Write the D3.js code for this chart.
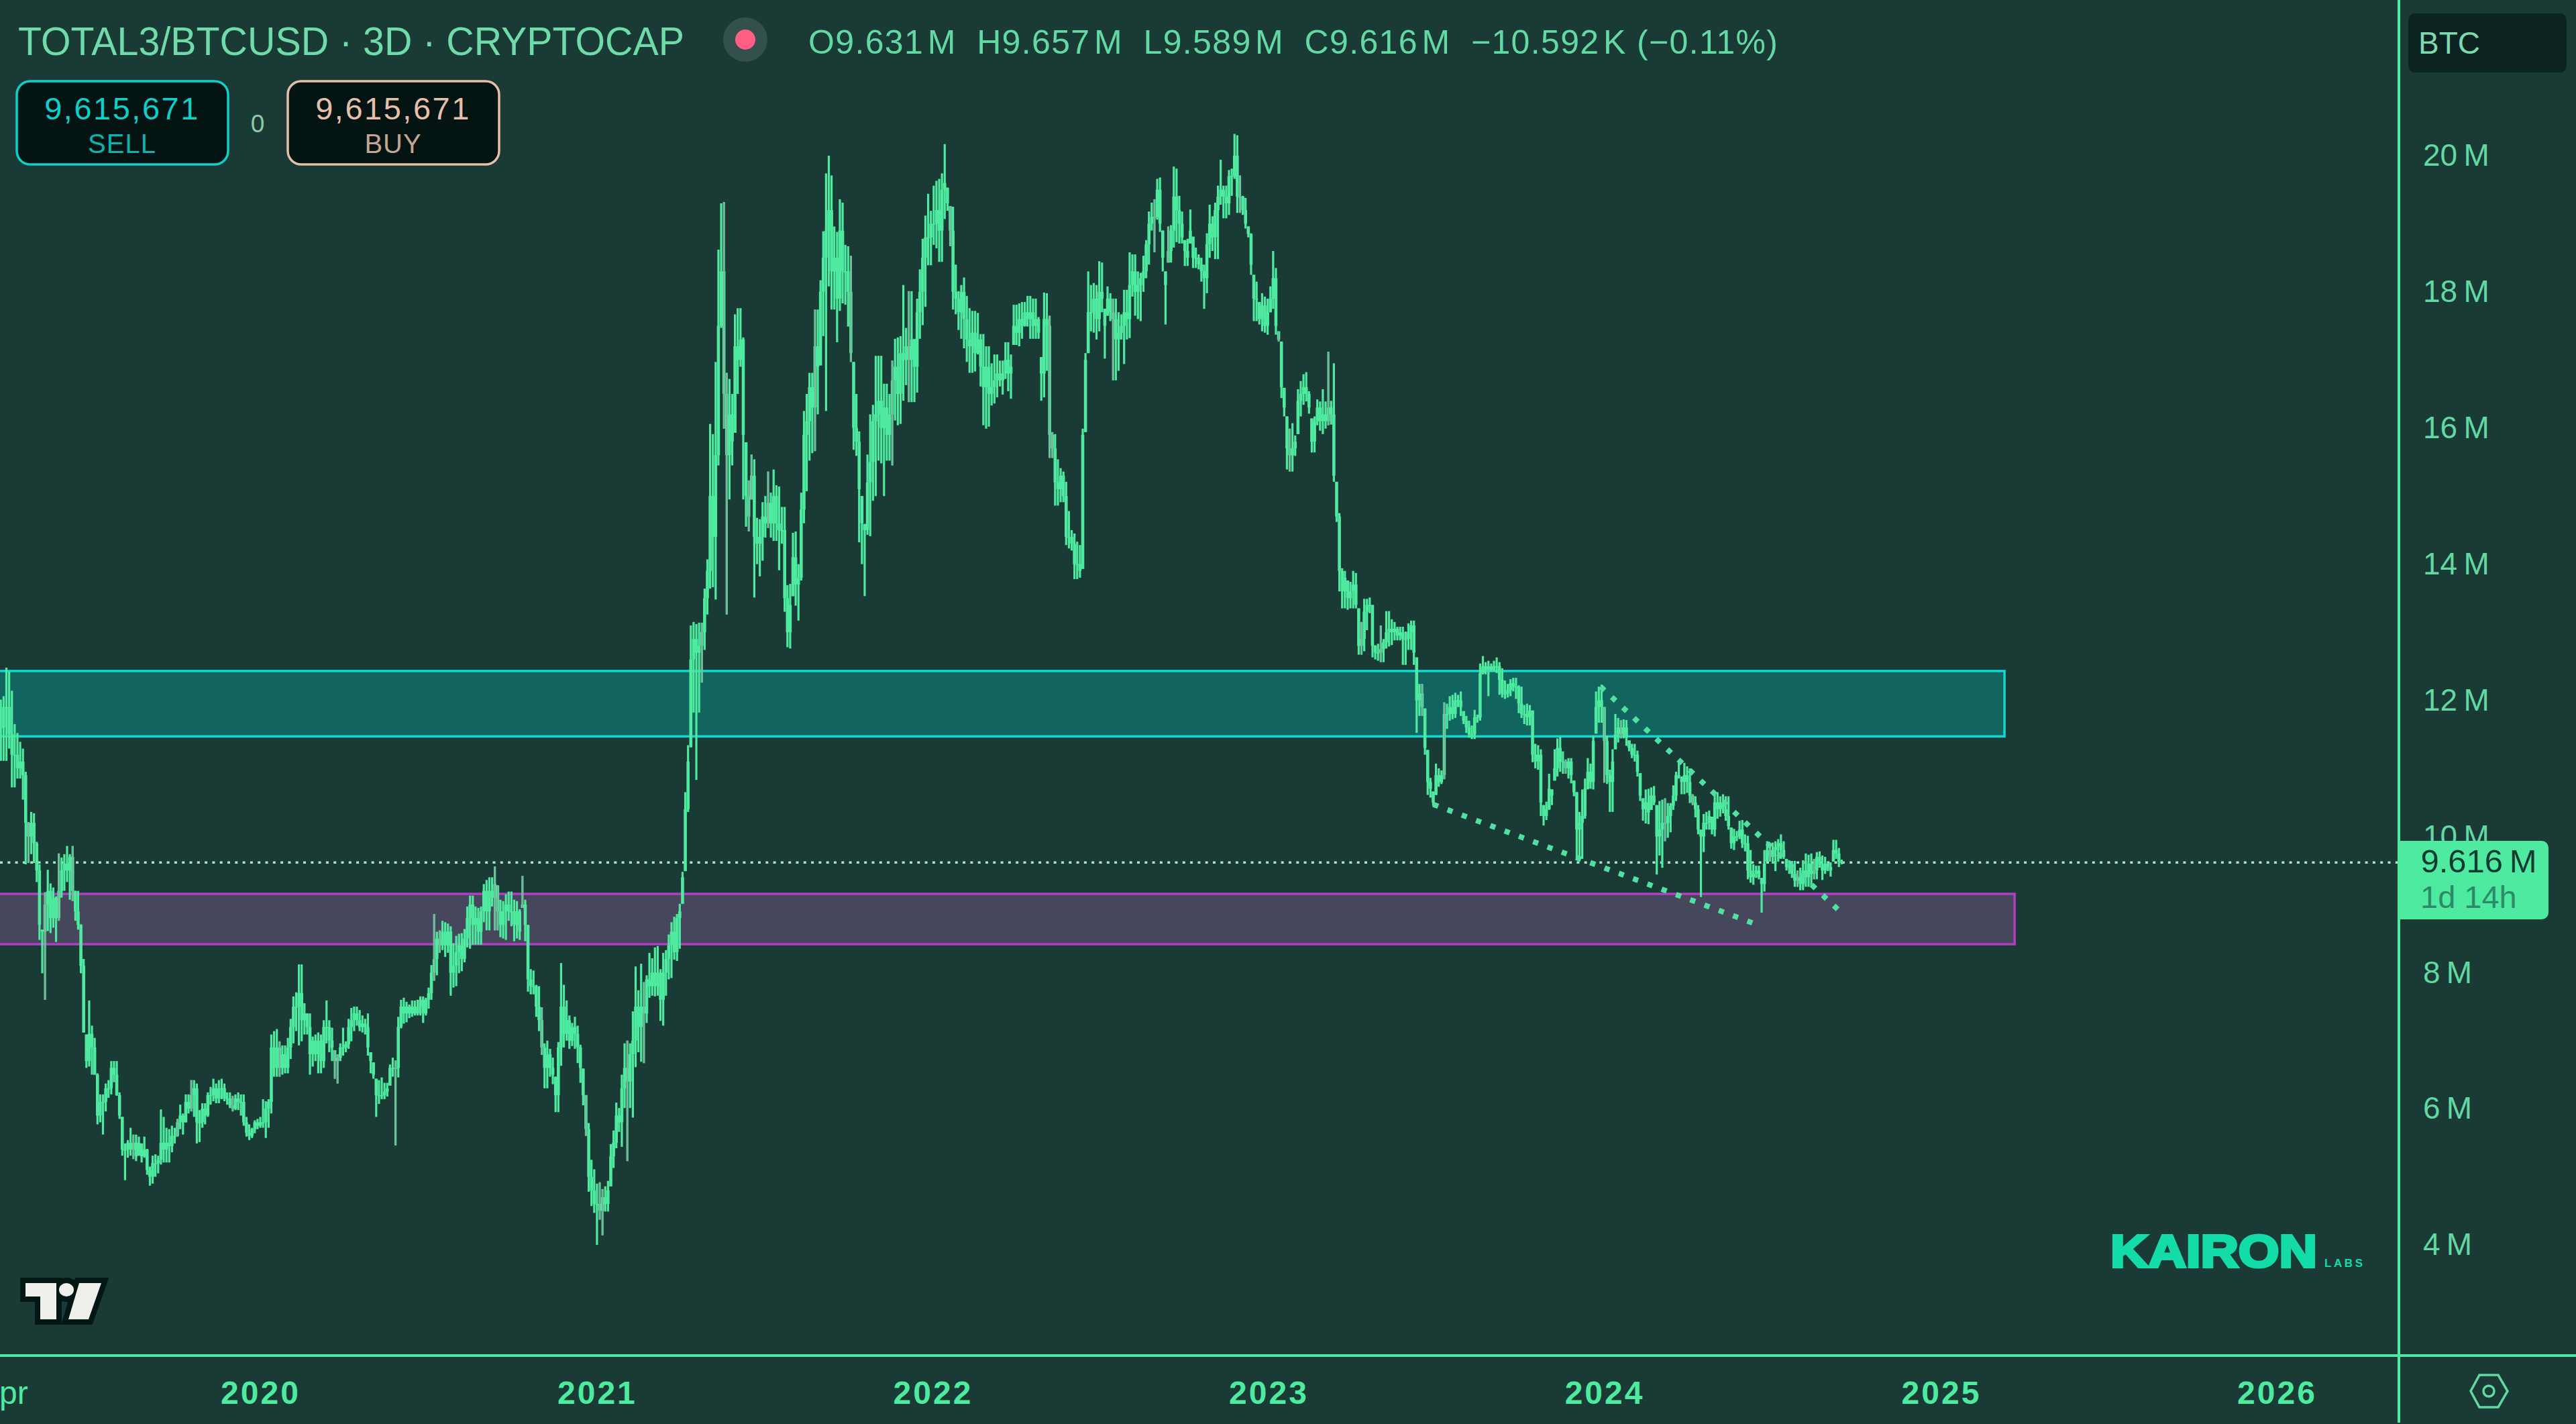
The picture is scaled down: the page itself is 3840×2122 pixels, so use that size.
<!DOCTYPE html>
<html>
<head>
<meta charset="utf-8">
<script src="https://cdnjs.cloudflare.com/ajax/libs/d3/7.8.5/d3.min.js"></script>
<style>
  html, body { margin: 0; padding: 0; background: #1a3a36; }
  svg { display: block; }
  text { font-family: "Liberation Sans", Arial, sans-serif; }
</style>
</head>
<body>
<div id="grafico"></div>
<script>
/* 3D bars, values in millions */
const firstBar = '2019-03-25';

const highs = [
12.01,12.06,12.48,12.42,12.14,11.65,11.52,11.39,11.29,10.95,
10.21,10.36,10.34,9.92,9.59,8.63,9.18,9.51,9.31,9.25,
9.12,9.75,9.69,9.74,9.86,9.74,9.86,9.20,9.20,8.71,
8.20,7.09,7.59,7.22,7.04,6.52,6.21,6.21,6.37,6.42,
6.70,6.70,6.70,6.24,5.88,5.49,5.54,5.72,5.62,5.62,
5.59,5.49,5.59,5.41,5.15,5.31,5.33,5.31,5.99,5.88,
5.72,5.70,5.75,5.72,5.85,6.06,5.93,6.21,6.21,6.42,
6.42,6.37,5.98,6.08,6.08,6.24,6.32,6.44,6.37,6.42,
6.44,6.37,6.24,6.24,6.19,6.21,6.24,6.21,6.21,5.88,
5.77,5.72,5.83,5.85,5.88,6.14,6.11,6.14,7.09,7.14,
7.17,6.99,6.93,6.93,7.04,7.32,7.65,7.71,8.12,8.12,
7.55,7.40,7.40,7.06,7.09,7.12,7.09,7.30,7.59,7.30,
7.19,6.86,6.80,6.96,7.19,6.99,7.32,7.48,7.50,7.50,
7.45,7.37,7.32,7.40,6.83,6.68,6.44,6.42,6.46,6.38,
6.38,6.65,6.75,6.71,7.35,7.60,7.63,7.57,7.53,7.59,
7.59,7.60,7.65,7.65,7.63,7.78,8.11,8.86,8.60,8.62,
8.76,8.74,8.72,8.68,8.43,8.54,8.57,8.58,8.64,8.97,
9.13,9.13,8.97,8.95,8.97,9.30,9.36,9.40,9.40,9.56,
9.28,9.07,9.05,9.15,9.19,9.19,9.07,9.05,8.93,9.42,
9.07,8.70,8.05,8.03,7.82,7.80,7.49,6.96,7.00,6.88,
6.75,6.47,6.98,8.14,7.82,7.59,7.37,7.26,7.35,7.22,
6.94,6.59,6.20,5.79,5.25,5.11,4.90,4.92,4.82,4.86,
4.94,5.48,5.68,6.09,6.01,6.50,6.96,7.00,6.96,7.43,
8.09,7.74,8.13,7.86,7.96,8.29,8.21,8.37,8.39,8.05,
8.29,8.33,8.56,8.74,8.82,8.86,9.01,9.48,10.65,11.34,
13.10,13.15,13.12,13.14,13.14,13.64,14.07,16.06,15.91,16.97,
18.62,19.30,19.32,16.81,16.72,16.50,17.67,17.76,17.76,17.33,
15.79,15.23,15.61,15.54,14.68,14.66,14.91,15.00,15.36,15.05,
15.39,15.16,15.14,14.84,14.84,13.69,13.71,14.46,14.48,14.00,
15.05,16.25,16.50,16.81,16.81,17.74,17.74,18.17,18.89,19.74,
20.00,19.71,18.96,18.88,19.36,19.31,18.69,18.67,18.53,16.97,
16.50,15.95,15.00,14.59,15.61,16.20,16.34,17.06,17.06,17.06,
16.65,16.65,16.50,16.99,17.31,17.33,17.35,18.10,17.47,18.01,
18.01,17.31,17.90,18.33,18.78,19.12,19.44,19.19,19.56,19.63,
19.66,19.74,20.17,19.53,19.26,19.25,18.40,18.01,18.10,18.21,
17.94,17.76,17.72,17.72,17.69,17.38,17.38,17.20,17.20,16.95,
17.08,17.08,16.99,16.99,17.26,17.26,17.08,17.81,17.81,17.83,
17.85,17.85,17.94,17.94,17.90,17.90,17.63,17.04,17.99,17.98,
17.65,15.94,15.91,15.54,15.41,15.36,15.21,14.78,14.50,14.45,
14.33,14.28,15.99,17.10,18.30,18.10,18.13,18.10,18.45,18.43,
17.75,18.08,17.98,17.90,17.90,17.70,17.67,18.03,18.03,18.58,
18.55,18.55,18.30,18.28,18.53,18.76,19.18,19.31,19.36,19.66,
19.68,18.90,18.30,18.96,18.98,19.84,19.81,19.41,19.18,18.76,
18.78,19.21,18.81,18.65,18.55,18.50,18.40,18.86,19.28,19.11,
19.31,19.56,19.94,19.56,19.56,19.79,19.81,20.32,20.30,19.71,
19.41,19.38,18.96,18.86,18.25,18.15,17.85,17.98,17.93,17.90,
18.08,18.60,18.35,17.42,17.27,16.59,16.17,15.99,16.07,15.89,
16.57,16.69,16.79,16.82,16.54,16.14,16.17,16.42,16.39,16.57,
16.39,17.12,16.40,16.95,15.21,14.75,13.94,13.90,13.76,13.74,
13.90,13.87,13.35,13.15,13.49,13.49,13.51,13.40,12.81,12.83,
13.10,12.90,13.31,13.31,13.19,13.15,13.08,13.08,13.08,13.01,
13.13,13.17,13.17,12.63,12.24,12.24,11.88,11.27,10.86,10.66,
11.07,11.00,10.97,11.97,11.95,12.06,12.08,12.11,12.08,12.13,
11.84,11.77,11.70,11.63,11.86,11.79,12.54,12.65,12.56,12.58,
12.54,12.58,12.63,12.56,12.47,12.29,12.24,12.31,12.33,12.33,
12.22,12.20,11.93,11.95,11.93,11.85,11.36,11.34,11.28,10.46,
10.51,10.92,10.69,11.28,11.44,11.46,11.25,11.13,11.15,11.15,
10.82,10.65,10.36,10.69,10.85,11.15,11.07,11.48,12.13,12.20,
12.23,11.90,11.48,10.98,11.28,11.80,11.74,11.71,11.72,11.71,
11.41,11.36,11.36,11.26,10.93,10.56,10.69,10.70,10.72,10.74,
10.46,10.52,10.54,10.56,10.49,10.49,10.75,10.95,11.11,10.88,
11.08,11.03,11.00,10.62,10.59,10.46,10.10,10.33,10.36,10.38,
10.29,10.64,10.65,10.59,10.62,10.59,10.59,10.13,10.11,10.08,
10.23,10.24,10.03,10.01,9.80,9.59,9.57,9.57,9.39,9.80,
9.93,9.88,9.91,9.93,9.96,10.03,9.93,9.67,9.65,9.64,
9.64,9.50,9.54,9.65,9.75,9.73,9.75,9.67,9.77,9.78,
9.72,9.70,9.62,9.62,9.95,9.95,9.83,9.66];

const lows = [
11.11,11.11,11.11,11.29,10.72,10.72,10.85,10.85,10.54,9.59,
9.61,9.74,9.61,9.33,8.48,7.99,7.60,8.61,8.58,8.66,
8.45,8.76,9.10,9.20,9.33,9.07,9.05,8.76,8.63,7.99,
7.12,6.60,6.62,6.50,6.50,5.77,5.80,5.62,5.96,6.16,
6.21,6.39,6.19,5.85,5.31,4.95,5.28,5.31,5.26,5.23,
5.31,5.21,5.28,5.03,4.87,4.90,5.00,5.05,5.18,5.21,
5.21,5.21,5.36,5.49,5.59,5.70,5.62,5.80,5.93,5.96,
5.88,5.49,5.51,5.72,5.77,5.88,6.06,6.11,6.08,6.08,
6.14,6.11,6.06,6.01,5.96,5.98,5.98,5.90,5.75,5.59,
5.54,5.57,5.64,5.70,5.72,5.72,5.57,5.72,5.93,6.47,
6.47,6.47,6.50,6.52,6.52,6.73,6.96,7.14,6.93,6.99,
7.09,7.09,6.50,6.62,6.70,6.52,6.52,6.60,6.96,6.83,
6.70,6.44,6.37,6.70,6.78,6.83,6.88,6.99,7.14,7.22,
7.14,7.12,7.09,6.78,6.52,6.44,5.88,6.07,6.14,6.14,
6.18,6.34,6.47,5.46,6.46,7.18,7.25,7.27,7.33,7.35,
7.37,7.37,7.37,7.26,7.37,7.47,7.60,7.88,7.96,8.29,
8.33,8.23,8.29,7.66,7.78,7.80,7.99,8.02,8.15,8.37,
8.35,8.41,8.41,8.41,8.41,8.74,8.62,8.62,8.97,8.62,
8.62,8.52,8.50,8.48,8.76,8.68,8.46,8.50,8.48,8.95,
8.46,7.72,7.68,7.68,7.35,7.14,6.79,6.30,6.30,6.47,
6.36,5.95,5.95,6.63,6.90,7.00,6.88,6.92,6.88,6.67,
6.38,6.05,5.60,4.78,4.57,4.47,4.00,4.37,4.14,4.49,
4.49,4.86,5.13,5.42,5.66,5.44,6.01,5.23,6.01,5.87,
6.61,6.83,6.69,6.67,7.26,7.63,7.66,7.65,7.66,7.29,
7.22,7.66,7.90,7.92,8.19,8.17,8.35,9.01,9.49,10.36,
11.31,11.82,10.83,11.82,12.26,12.74,13.26,13.64,13.66,13.48,
15.45,17.47,15.99,13.26,14.95,15.45,15.93,16.50,16.90,14.95,
14.55,14.48,14.95,13.51,14.00,13.82,14.05,14.39,14.53,14.39,
14.34,14.34,13.91,14.30,13.30,12.78,12.76,13.53,13.39,13.17,
13.76,14.60,15.07,15.52,15.63,15.66,16.20,16.92,17.35,16.25,
18.08,17.74,17.74,17.26,17.72,17.83,17.81,17.49,16.97,15.68,
15.59,14.32,14.00,13.53,14.43,14.41,14.93,15.00,15.52,15.48,
15.00,15.52,15.52,15.45,16.11,16.04,16.06,16.40,16.63,16.38,
16.38,16.38,16.52,17.31,17.51,17.78,18.39,18.39,18.69,18.64,
18.44,18.44,19.07,19.19,18.67,17.74,17.67,17.44,17.31,17.17,
16.97,16.81,16.81,16.83,17.08,16.61,16.04,15.99,16.02,16.33,
16.36,16.45,16.61,16.49,16.72,16.54,16.43,17.22,17.22,17.20,
17.31,17.49,17.49,17.31,17.31,17.31,17.31,16.40,16.45,16.84,
15.56,15.56,14.86,14.86,14.91,14.91,14.28,14.23,14.20,13.78,
13.78,13.80,13.93,15.94,17.10,17.42,17.40,17.30,17.42,17.70,
17.02,17.65,17.57,16.70,16.70,16.84,17.30,16.94,17.30,17.32,
17.93,17.65,17.60,17.57,18.00,18.20,18.40,18.90,18.58,19.06,
18.88,18.30,17.52,18.43,18.43,18.65,18.73,18.71,18.71,18.38,
18.38,18.71,18.35,18.35,18.33,18.15,17.75,17.98,18.50,18.60,
18.48,18.48,19.28,19.08,19.08,19.13,19.41,19.66,19.16,19.16,
19.13,18.93,18.80,18.25,17.57,17.57,17.52,17.42,17.40,17.37,
17.70,17.75,17.37,17.27,16.44,16.17,15.39,15.36,15.36,15.59,
15.91,16.17,16.34,16.39,16.21,15.64,15.64,16.04,15.96,15.91,
15.99,16.04,16.05,15.21,14.62,13.60,13.35,13.35,13.33,13.35,
13.35,13.35,12.67,12.67,12.72,13.03,13.28,12.63,12.60,12.58,
12.56,12.56,12.76,12.79,12.81,12.88,12.88,12.88,12.52,12.52,
12.74,12.74,12.52,11.52,11.77,11.77,11.20,10.61,10.57,10.45,
10.61,10.73,10.77,10.84,11.58,11.70,11.72,11.74,11.90,11.77,
11.65,11.52,11.45,11.43,11.43,11.67,11.70,12.38,12.38,12.06,
12.42,12.42,12.40,12.08,12.04,12.02,12.04,12.06,12.13,12.02,
11.81,11.74,11.65,11.63,11.63,11.09,11.00,10.98,10.30,10.16,
10.24,10.39,10.46,10.82,10.88,10.95,10.92,10.92,10.85,10.78,
10.59,9.67,9.67,9.67,10.26,10.69,10.70,10.69,11.51,11.67,
11.67,10.79,10.77,10.36,10.36,11.28,11.38,11.44,11.44,11.33,
11.25,11.15,11.10,10.88,10.52,10.23,10.19,10.18,10.39,10.46,
9.44,9.72,9.54,9.93,9.98,10.06,10.39,10.52,10.85,10.62,
10.62,10.64,10.49,10.46,10.28,10.03,9.11,9.77,10.10,10.10,
10.03,10.00,10.26,10.29,10.34,10.23,10.10,9.82,9.80,9.93,
9.96,9.83,9.78,9.37,9.32,9.29,9.39,9.37,8.88,9.19,
9.63,9.63,9.60,9.49,9.63,9.67,9.67,9.50,9.45,9.39,
9.26,9.26,9.21,9.21,9.26,9.26,9.26,9.37,9.37,9.54,
9.36,9.45,9.49,9.41,9.63,9.67,9.55,9.59];

const closes = [
11.6,11.9,11.9,11.5,11.2,11.2,11.0,11.1,10.9,10.2,
10.0,10.2,9.9,9.5,8.7,8.6,9.0,9.2,8.8,9.1,
8.8,9.2,9.5,9.6,9.5,9.7,9.2,8.9,8.7,8.1,
7.1,6.7,7.1,6.9,6.5,5.9,6.1,6.1,6.3,6.3,
6.6,6.5,6.2,5.9,5.4,5.4,5.5,5.4,5.5,5.3,
5.5,5.3,5.4,5.1,5.0,5.2,5.2,5.25,5.5,5.4,
5.5,5.45,5.6,5.6,5.8,5.9,5.8,6.1,6.0,6.2,
6.3,5.8,5.8,6.0,5.9,6.2,6.2,6.3,6.15,6.3,
6.3,6.15,6.15,6.05,6.0,6.15,6.1,6.1,5.8,5.65,
5.6,5.7,5.8,5.75,5.8,5.8,6.0,6.1,6.9,6.6,
6.9,6.6,6.8,6.6,6.9,7.2,7.5,7.5,7.7,7.3,
7.4,7.2,6.8,7.0,6.8,7.0,6.7,7.2,7.2,7.0,
6.9,6.7,6.75,6.9,6.9,6.95,7.2,7.3,7.4,7.3,
7.2,7.25,7.2,6.9,6.7,6.5,6.2,6.2,6.2,6.25,
6.3,6.6,6.6,6.6,7.2,7.5,7.4,7.5,7.4,7.5,
7.4,7.5,7.6,7.4,7.6,7.7,8.0,8.2,8.5,8.4,
8.6,8.4,8.6,8.0,8.1,8.3,8.4,8.2,8.5,8.8,
9.0,8.7,8.8,8.6,8.9,9.2,8.9,9.2,9.1,9.3,
8.9,8.7,8.9,9.0,8.9,8.9,8.7,8.9,8.6,9.0,
8.7,7.9,7.8,7.8,7.5,7.3,6.9,6.6,6.8,6.6,
6.5,6.2,6.9,7.5,7.1,7.3,7.0,7.2,7.1,6.9,
6.6,6.2,5.7,5.0,4.8,4.6,4.6,4.5,4.7,4.6,
4.8,5.3,5.5,5.9,5.8,6.3,6.6,6.4,6.8,7.0,
7.5,7.2,7.5,7.4,7.9,7.8,8.0,7.8,8.0,7.6,
8.0,8.2,8.4,8.6,8.3,8.8,8.9,9.4,10.4,11.1,
12.6,12.9,12.7,12.8,13.0,13.5,13.9,15.0,14.4,15.6,
17.5,18.3,16.5,15.6,16.2,15.8,17.2,17.0,17.3,15.9,
15.0,14.7,15.3,14.4,14.3,14.4,14.7,14.6,14.9,14.6,
15.0,14.6,14.5,14.5,13.5,13.0,13.4,14.1,13.7,13.8,
14.8,15.9,16.1,16.6,16.3,17.2,16.9,18.0,18.5,18.9,
19.2,18.3,18.5,17.9,18.9,18.3,18.3,18.0,17.1,16.0,
15.8,15.1,14.6,14.5,15.2,15.5,16.1,16.2,16.4,16.0,
16.3,15.9,16.2,16.7,16.9,16.5,17.1,17.0,17.2,17.0,
17.3,16.9,17.7,18.0,18.5,18.8,18.8,19.0,19.0,19.2,
18.9,19.5,19.6,19.3,18.9,18.0,17.9,17.7,18.0,17.6,
17.3,17.2,17.4,17.1,17.3,16.9,16.6,16.9,16.5,16.6,
16.7,16.8,16.7,16.8,17.0,16.8,16.9,17.5,17.4,17.6,
17.5,17.7,17.6,17.7,17.5,17.6,17.4,16.8,17.6,17.5,
15.9,15.7,15.2,15.1,15.3,15.0,14.4,14.4,14.3,14.0,
14.0,13.9,15.9,17.0,17.7,17.7,17.9,17.6,18.0,17.9,
17.5,17.9,17.7,17.6,17.3,17.4,17.5,17.7,17.6,18.1,
18.3,18.0,18.1,18.2,18.3,18.7,19.0,19.1,19.1,19.5,
19.0,18.5,18.1,18.6,18.9,19.4,19.2,19.0,18.8,18.6,
18.5,18.9,18.5,18.5,18.4,18.3,18.2,18.7,19.0,18.8,
19.2,19.4,19.5,19.4,19.3,19.7,19.7,20.0,19.4,19.4,
19.2,19.0,18.85,18.4,17.9,17.9,17.6,17.8,17.5,17.7,
17.9,18.2,17.5,17.3,16.6,16.3,15.7,15.6,15.7,15.8,
16.4,16.5,16.6,16.5,16.3,15.8,16.1,16.3,16.1,16.2,
16.1,16.3,16.2,15.3,14.7,13.9,13.6,13.8,13.5,13.6,
13.7,13.4,12.8,12.9,13.3,13.4,13.4,12.8,12.7,12.7,
12.75,12.85,13.0,13.05,13.0,13.05,12.95,13.0,12.9,12.9,
13.0,13.1,12.7,12.0,12.1,11.9,11.3,10.8,10.7,10.5,
10.9,10.8,10.9,11.8,11.8,11.9,11.8,12.0,12.0,11.9,
11.7,11.6,11.5,11.5,11.75,11.75,12.4,12.5,12.45,12.5,
12.45,12.5,12.5,12.3,12.1,12.1,12.15,12.25,12.2,12.2,
11.95,11.8,11.8,11.75,11.85,11.2,11.1,11.2,10.5,10.3,
10.4,10.7,10.6,11.0,11.3,11.1,11.1,11.0,11.1,10.9,
10.65,10.1,10.2,10.3,10.7,10.95,10.8,11.4,11.9,12.0,
11.9,11.4,10.9,10.8,11.1,11.5,11.6,11.5,11.6,11.45,
11.3,11.2,11.2,10.95,10.6,10.4,10.5,10.35,10.6,10.5,
10.0,10.1,10.2,10.2,10.3,10.45,10.6,10.9,10.9,10.8,
10.9,10.8,10.6,10.5,10.4,10.1,10.0,10.2,10.2,10.3,
10.1,10.5,10.4,10.5,10.4,10.3,10.15,9.9,10.0,10.0,
10.1,9.9,9.9,9.5,9.4,9.45,9.5,9.4,9.3,9.6,
9.8,9.7,9.8,9.85,9.9,9.8,9.7,9.55,9.55,9.45,
9.35,9.4,9.3,9.5,9.4,9.6,9.45,9.5,9.7,9.6,
9.5,9.6,9.55,9.5,9.8,9.75,9.63,9.616];

/* stems that show up grey in the picture */
const greyBars = [10,16,21,26,48,64,69,84,101,121,122,143,157,159,179,180,189,196,212,217,218,227,233,
  254,262,263,271,272,278,295,308,323,329,344,380,381,403,418,423,449,463,467,481,493,500,515,523,
  567,581,587,603,613,641,651,657];

const yearTicks = ['2019-04-01','2020-01-01','2021-01-01','2022-01-01','2023-01-01','2024-01-01','2025-01-01','2026-01-01'];
const priceTicks = [4,6,8,10,12,14,16,18,20];

const lastPrice = 9.616;
const tealBand = { top: 12.43, bottom: 11.47, end: '2025-03-11' };
const purpleBand = { top: 9.156, bottom: 8.417, end: '2025-03-22' };
const upperTrend = [['2023-12-28',12.20],['2024-09-13',8.90]];
const lowerTrend = [['2023-06-29',10.47],['2024-06-12',8.72]];

const w = 3840;
const h = 2122;
const axisX = 3576;
const axisY = 2020;
const green = '#4eea9f';
const label = '#62d8a3';
const bg = '#1a3a36';

const parse = d3.utcParse('%Y-%m-%d');

const x = d3.scaleUtc()
  .domain([parse('2020-01-01'), parse('2026-01-01')])
  .range([388, 3394]);

const y = d3.scaleLinear()
  .domain([22.287, 2.374])
  .range([0, axisY]);

const start = parse(firstBar);
const bars = highs.map((hi, i) => ({
  i,
  date: d3.utcDay.offset(start, 3 * i),
  hi,
  lo: lows[i],
  open: i ? closes[i - 1] : closes[0],
  close: closes[i]
}));

const svg = d3.select('#grafico').append('svg')
  .attr('width', w)
  .attr('height', h)
  .attr('viewBox', `0 0 ${w} ${h}`);

svg.append('rect').attr('width', w).attr('height', h).attr('fill', bg);

svg.append('clipPath').attr('id', 'plot')
  .append('rect').attr('width', axisX).attr('height', axisY);

const plot = svg.append('g').attr('clip-path', 'url(#plot)');

/*Bandas*/
const band = (b, fill, stroke) => {
  plot.append('rect')
    .attr('x', -10)
    .attr('y', y(b.top))
    .attr('width', x(parse(b.end)) + 10)
    .attr('height', y(b.bottom) - y(b.top))
    .attr('fill', fill)
    .attr('stroke', stroke)
    .attr('stroke-width', 3.5);
};
band(tealBand, '#12645e', '#10d8d2');
band(purpleBand, '#46465c', '#b03fc4');

/*Precio actual*/
plot.append('line')
  .attr('x1', 0).attr('x2', axisX)
  .attr('y1', y(lastPrice)).attr('y2', y(lastPrice))
  .attr('stroke', '#a5e8c8')
  .attr('stroke-width', 3.5)
  .attr('stroke-dasharray', '4 7.3');

/*Velas*/
plot.append('g').selectAll('rect')
  .data(bars)
  .enter().append('rect')
  .attr('x', d => x(d.date) - 1.6)
  .attr('y', d => y(d.hi))
  .attr('width', 3.2)
  .attr('height', d => y(d.lo) - y(d.hi))
  .attr('fill', green);

plot.append('g').selectAll('rect')
  .data(bars)
  .enter().append('rect')
  .attr('x', d => x(d.date) - 2.3)
  .attr('y', d => y(Math.min(d.hi, Math.max(d.open, d.close))))
  .attr('width', 4.6)
  .attr('height', d => Math.max(1.5, y(Math.max(d.lo, Math.min(d.open, d.close))) - y(Math.min(d.hi, Math.max(d.open, d.close)))))
  .attr('fill', green);

plot.append('g').selectAll('rect')
  .data(greyBars.map(i => bars[i]))
  .enter().append('rect')
  .attr('x', d => x(d.date) - 0.9)
  .attr('y', d => y(d.hi))
  .attr('width', 1.8)
  .attr('height', d => y(d.lo) - y(d.hi))
  .attr('fill', '#86a99c');

/*Lineas de tendencia*/
const trend = d3.line().x(d => x(parse(d[0]))).y(d => y(d[1]));
[upperTrend, lowerTrend].forEach(t => {
  plot.append('path')
    .attr('d', trend(t))
    .attr('fill', 'none')
    .attr('stroke', '#52dfa2')
    .attr('stroke-width', 8)
    .attr('stroke-dasharray', '8 14.7');
});

/*Ejes*/
const yAxis = d3.axisRight(y)
  .tickValues(priceTicks)
  .tickSize(0)
  .tickPadding(36)
  .tickFormat(d => `${d}\u2009M`);

svg.append('g')
  .attr('id', 'y-axis')
  .attr('transform', `translate(${axisX},0)`)
  .call(yAxis)
  .call(g => g.select('.domain').remove())
  .selectAll('text')
  .attr('fill', label)
  .style('font-size', '46px')
  .style('font-family', '"Liberation Sans", Arial, sans-serif');

const xAxis = d3.axisBottom(x)
  .tickValues(yearTicks.map(parse))
  .tickSize(0)
  .tickPadding(38)
  .tickFormat(d => d.getUTCMonth() === 0 ? d3.utcFormat('%Y')(d) : d3.utcFormat('%b')(d));

svg.append('g')
  .attr('id', 'x-axis')
  .attr('transform', `translate(0,${axisY})`)
  .call(xAxis)
  .call(g => g.select('.domain').remove())
  .selectAll('text')
  .attr('fill', green)
  .attr('dx', d => d.getUTCMonth() === 0 ? 0 : -7)
  .style('font-size', '48px')
  .style('font-family', '"Liberation Sans", Arial, sans-serif')
  .style('font-weight', d => d.getUTCMonth() === 0 ? 700 : 400)
  .style('letter-spacing', d => d.getUTCMonth() === 0 ? '3px' : '0');

svg.append('line').attr('x1', 0).attr('x2', w).attr('y1', axisY).attr('y2', axisY)
  .attr('stroke', green).attr('stroke-width', 4);
svg.append('line').attr('x1', axisX).attr('x2', axisX).attr('y1', 0).attr('y2', 2120)
  .attr('stroke', green).attr('stroke-width', 4);

/*Etiqueta de precio*/
svg.append('path')
  .attr('d', 'M3576 1253H3789a10 10 0 0 1 10 10V1360a10 10 0 0 1 -10 10H3576Z')
  .attr('fill', green);
svg.append('text').attr('x', 3695).attr('y', 1300)
  .attr('text-anchor', 'middle').attr('font-size', 49).attr('fill', '#123a30')
  .text('9.616\u2009M');
svg.append('text').attr('x', 3608).attr('y', 1353)
  .attr('font-size', 47).attr('fill', '#2c8a68')
  .text('1d 14h');

/*Cabecera*/
svg.append('text').attr('x', 27).attr('y', 82)
  .attr('font-size', 59).attr('fill', '#6fdba8')
  .attr('textLength', 993).attr('lengthAdjust', 'spacingAndGlyphs')
  .text('TOTAL3/BTCUSD · 3D · CRYPTOCAP');

svg.append('circle').attr('cx', 1111).attr('cy', 59).attr('r', 33).attr('fill', '#33504c');
svg.append('circle').attr('cx', 1111).attr('cy', 59).attr('r', 15).attr('fill', '#ff5f85');

svg.append('text').attr('x', 1205).attr('y', 80)
  .attr('font-size', 50).attr('fill', label)
  .attr('textLength', 1445)
  .attr('xml:space', 'preserve')
  .text('O9.631\u200aM  H9.657\u200aM  L9.589\u200aM  C9.616\u200aM  −10.592\u200aK (−0.11%)');

const tradeBox = (bx, color, side) => {
  svg.append('rect')
    .attr('x', bx).attr('y', 121).attr('width', 315).attr('height', 124).attr('rx', 20)
    .attr('fill', '#031413').attr('stroke', color).attr('stroke-width', 3.5);
  svg.append('text').attr('x', bx + 157).attr('y', 178)
    .attr('text-anchor', 'middle').attr('font-size', 47).attr('letter-spacing', 2.5).attr('fill', color)
    .text('9,615,671');
  svg.append('text').attr('x', bx + 157).attr('y', 228)
    .attr('text-anchor', 'middle').attr('font-size', 40).attr('letter-spacing', 1).attr('fill', color)
    .attr('opacity', 0.85)
    .text(side);
};
tradeBox(25, '#10cfc8', 'SELL');
tradeBox(429, '#e6bfaa', 'BUY');
svg.append('text').attr('x', 384).attr('y', 197)
  .attr('text-anchor', 'middle').attr('font-size', 37).attr('fill', '#8dcaa5')
  .text('0');

/*BTC arriba a la derecha*/
svg.append('rect').attr('x', 3590).attr('y', 20).attr('width', 236).attr('height', 88).attr('rx', 10)
  .attr('fill', '#0c2421');
svg.append('text').attr('x', 3605).attr('y', 80)
  .attr('font-size', 46).attr('fill', '#7fd9b0')
  .text('BTC');

/*Logo TradingView*/
const tv = svg.append('g')
  .attr('fill', '#efefec')
  .attr('stroke', '#031715')
  .attr('stroke-width', 16)
  .attr('stroke-linejoin', 'miter');
tv.append('path').attr('d', 'M38 1912H84V1966H60V1932H38Z');
tv.append('ellipse').attr('cx', 99).attr('cy', 1922).attr('rx', 11).attr('ry', 10);
tv.append('path').attr('d', 'M118 1912H151L132 1966H102Z');
svg.append('path').attr('d', 'M38 1912H84V1966H60V1932H38Z').attr('fill', '#efefec');
svg.append('ellipse').attr('cx', 99).attr('cy', 1922).attr('rx', 11).attr('ry', 10).attr('fill', '#efefec');
svg.append('path').attr('d', 'M118 1912H151L132 1966H102Z').attr('fill', '#efefec');

/*Marca de agua*/
svg.append('text').attr('x', 3146).attr('y', 1888)
  .attr('font-size', 68).attr('font-weight', 700).attr('fill', '#14dca8')
  .attr('stroke', '#14dca8').attr('stroke-width', 4)
  .attr('textLength', 308).attr('lengthAdjust', 'spacingAndGlyphs')
  .text('KAIRON');
svg.append('text').attr('x', 3465).attr('y', 1888)
  .attr('font-size', 17).attr('font-weight', 700).attr('fill', '#14dca8')
  .attr('textLength', 57)
  .text('LABS');

/*Icono*/
const icon = d3.line().x(d => d[0]).y(d => d[1]);
svg.append('path')
  .attr('d', icon([[3696,2049],[3724,2049],[3738,2073],[3724,2097],[3696,2097],[3683,2073]]) + 'Z')
  .attr('fill', 'none').attr('stroke', label).attr('stroke-width', 3.5);
svg.append('circle').attr('cx', 3710).attr('cy', 2073).attr('r', 8)
  .attr('fill', 'none').attr('stroke', label).attr('stroke-width', 3.5);
</script>
</body>
</html>
